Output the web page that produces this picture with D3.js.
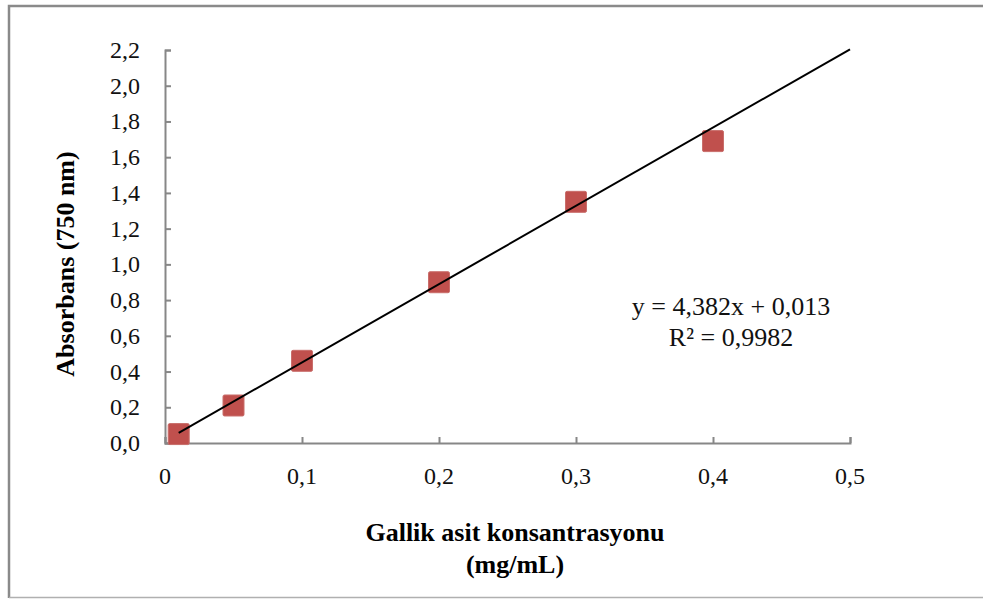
<!DOCTYPE html>
<html lang="tr">
<head>
<meta charset="UTF-8">
<script src="https://d3js.org/d3.v7.min.js"></script>
<style>
  body { margin: 0; background: #fff; }
  svg { display: block; font-family: "Liberation Serif", "Times New Roman", serif; }
</style>
</head>
<body>
<svg id="chart" width="983" height="599"></svg>
<script>
// data
const concentrations = [0.01, 0.05, 0.1, 0.2, 0.3, 0.4];
const absorbances = [0.05, 0.21, 0.46, 0.9, 1.35, 1.69];
const slope = 4.382, intercept = 0.013;
const xTicks = [0, 0.1, 0.2, 0.3, 0.4, 0.5];
const yTicks = [0, 0.2, 0.4, 0.6, 0.8, 1.0, 1.2, 1.4, 1.6, 1.8, 2.0, 2.2];
const equationLines = ["y = 4,382x + 0,013", "R² = 0,9982"];

const svg = d3.select('#chart');
const comma = d => d3.format('.1f')(d).replace('.', ',');

// frame
svg.append('path')
  .attr('d', 'M9,598 L9,6 L983,6')
  .attr('fill', 'none').attr('stroke', '#8a8a8a').attr('stroke-width', 2.5);
svg.append('line')
  .attr('x1', 9).attr('x2', 983).attr('y1', 597.5).attr('y2', 597.5)
  .attr('stroke', '#b0b0b0').attr('stroke-width', 1.5);

const x = d3.scaleLinear().domain([0, 0.5]).range([165, 850]);
const y = d3.scaleLinear().domain([0, 2.2]).range([443, 50]);

// axes with inward ticks
const xAxis = svg.append('g')
  .attr('transform', 'translate(0,443)')
  .call(d3.axisTop(x).tickValues(xTicks).tickSize(6).tickSizeOuter(6));
xAxis.selectAll('text').remove();
const yAxis = svg.append('g')
  .attr('transform', 'translate(165,0)')
  .call(d3.axisRight(y).tickValues(yTicks).tickSize(6).tickSizeOuter(6));
yAxis.selectAll('text').remove();
svg.selectAll('.domain, .tick line')
  .attr('stroke', '#878787').attr('stroke-width', 2);

// tick labels
svg.append('g').selectAll('text')
  .data(xTicks).join('text')
  .attr('x', d => x(d)).attr('y', 484)
  .attr('text-anchor', 'middle')
  .attr('font-size', 24).attr('fill', '#111')
  .text(d => d === 0 ? '0' : comma(d));
svg.append('g').selectAll('text')
  .data(yTicks).join('text')
  .attr('x', 140).attr('y', d => y(d) + 8)
  .attr('text-anchor', 'end')
  .attr('font-size', 24).attr('fill', '#111')
  .text(d => comma(d));

// data markers
svg.append('g').selectAll('rect')
  .data(concentrations).join('rect')
  .attr('x', (d, i) => x(d) - 10.5)
  .attr('y', (d, i) => y(absorbances[i]) - 10.5)
  .attr('width', 21).attr('height', 21)
  .attr('rx', 1.5)
  .attr('fill', '#c0504d')
  .attr('stroke', '#c96e6b').attr('stroke-width', 1);

// trend line
const x0 = d3.min(concentrations), x1 = 0.5;
svg.append('line')
  .attr('x1', x(x0)).attr('y1', y(slope * x0 + intercept))
  .attr('x2', x(x1)).attr('y2', y(slope * x1 + intercept))
  .attr('stroke', '#000').attr('stroke-width', 2);

// equation
svg.append('g').selectAll('text')
  .data(equationLines).join('text')
  .attr('x', 731).attr('y', (d, i) => 315 + i * 31)
  .attr('text-anchor', 'middle')
  .attr('font-size', 26).attr('fill', '#111')
  .text(d => d);

// axis titles
svg.append('text')
  .attr('x', 515).attr('y', 541)
  .attr('text-anchor', 'middle')
  .attr('font-size', 26).attr('font-weight', 'bold')
  .text('Gallik asit konsantrasyonu');
svg.append('text')
  .attr('x', 515).attr('y', 573)
  .attr('text-anchor', 'middle')
  .attr('font-size', 26).attr('font-weight', 'bold')
  .text('(mg/mL)');
svg.append('text')
  .attr('transform', 'translate(74,264) rotate(-90)')
  .attr('text-anchor', 'middle')
  .attr('font-size', 26).attr('font-weight', 'bold')
  .text('Absorbans (750 nm)');
</script>
</body>
</html>
